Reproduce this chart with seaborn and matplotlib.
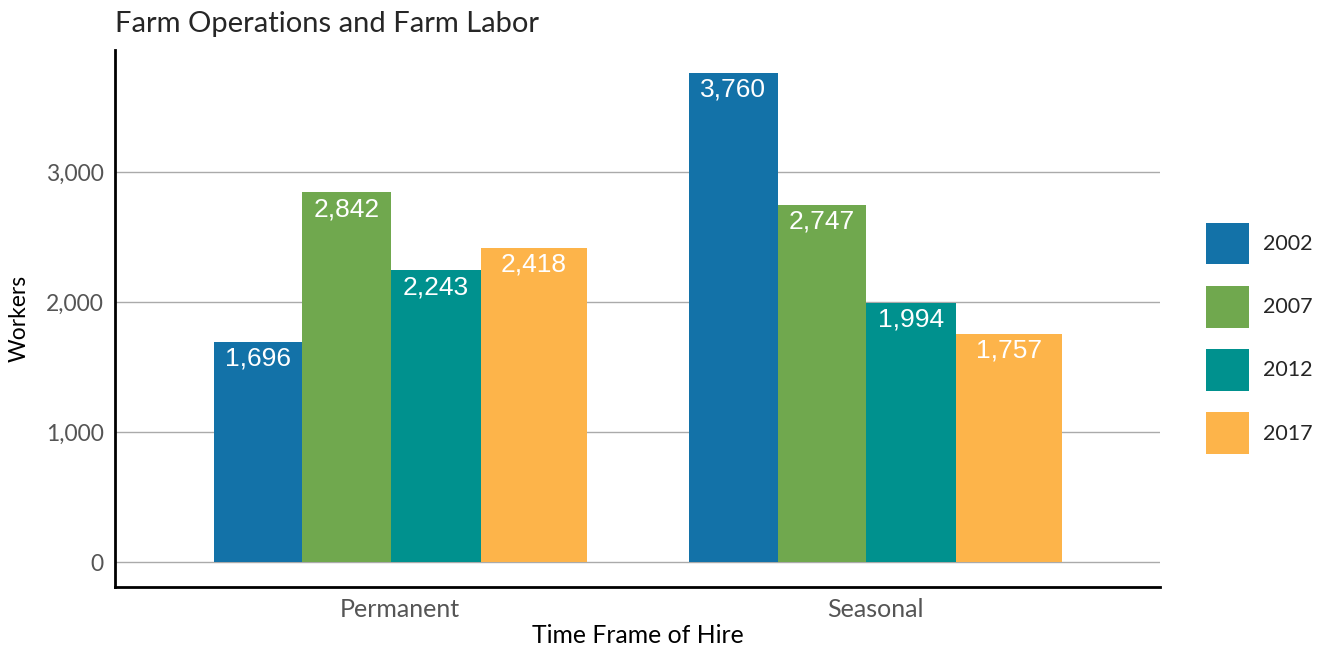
import pandas as pd
import matplotlib.pyplot as plt
import seaborn as sns

hire_types = ['Permanent', 'Seasonal']
years = ['2002', '2007', '2012', '2017']
permanent = [1696, 2842, 2243, 2418]
seasonal = [3760, 2747, 1994, 1757]
colors = ['#1372a8', '#70a84e', '#00918e', '#fdb44a']

rows = []
for yr, p, s in zip(years, permanent, seasonal):
    rows.append({'hire': 'Permanent', 'year': yr, 'workers': p})
    rows.append({'hire': 'Seasonal', 'year': yr, 'workers': s})
df = pd.DataFrame(rows)

sns.set_style('white')
plt.rcParams['font.family'] = ['Lato', 'DejaVu Sans']

fig = plt.figure(figsize=(13.29, 6.49), dpi=100)
ax = fig.add_axes([0.0865, 0.0955, 0.7865, 0.8275])

sns.barplot(data=df, x='hire', y='workers', hue='year', order=hire_types,
            hue_order=years, palette=colors, saturation=1, width=0.785,
            errorbar=None, ax=ax, linewidth=0)

# bar widths in the original are not all equal (last one wider)
widths = [0.187, 0.186, 0.189, 0.223]
total = sum(widths)
for i, cont in enumerate(ax.containers):
    for bar in cont:
        xc = bar.get_x() + bar.get_width() / 2
        j = round(xc)
        bar.set_x(j - total / 2 + sum(widths[:i]))
        bar.set_width(widths[i])
        h = bar.get_height()
        ax.annotate(f'{h:,.0f}', (bar.get_x() + bar.get_width() / 2, h),
                    xytext=(0, -12), textcoords='offset points',
                    ha='center', va='center', color='white', fontsize=19,
                    family='Liberation Sans')

ax.set_xlim(-0.6, 1.6)
ax.set_ylim(-192, 3938)
ax.set_yticks([0, 1000, 2000, 3000])
ax.yaxis.set_major_formatter(plt.FuncFormatter(lambda v, p: f'{v:,.0f}'))
ax.grid(axis='y', color='#aaaaaa', linewidth=1)
ax.set_axisbelow(True)
ax.tick_params(axis='y', length=0, labelsize=16.5, colors='#555555', pad=8)
ax.tick_params(axis='x', length=0, labelsize=18, colors='#555555', pad=8)

for side in ['top', 'right']:
    ax.spines[side].set_visible(False)
for side in ['left', 'bottom']:
    ax.spines[side].set_color('black')
    ax.spines[side].set_linewidth(2)

ax.set_xlabel('Time Frame of Hire', fontsize=17.8, color='black', labelpad=2)
ax.set_ylabel('Workers', fontsize=16.5, color='black', labelpad=12)
ax.set_title('Farm Operations and Farm Labor', fontsize=21, loc='left',
             x=0.0, pad=13)

ax.legend(loc='center left', bbox_to_anchor=(1.025, 0.463), frameon=False,
          fontsize=15.5, handlelength=2.0, handleheight=2.6, labelspacing=1.0,
          handletextpad=0.65)

fig.savefig('out.png', dpi=100)
